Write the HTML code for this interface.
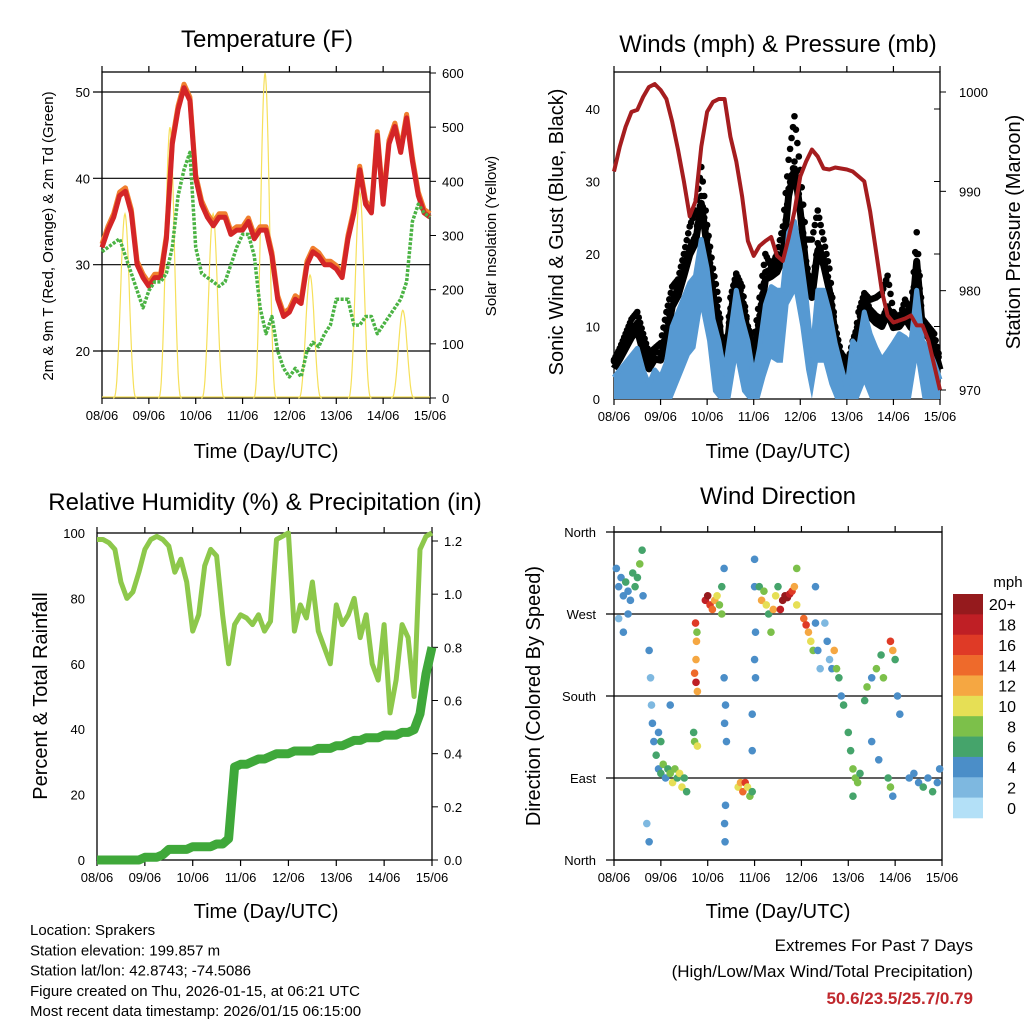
<!DOCTYPE html>
<html><head><meta charset="utf-8"><style>
html,body{margin:0;padding:0;background:#fff}
svg{display:block;font-family:"Liberation Sans",sans-serif}
</style></head><body>
<svg id="s" width="1024" height="1024" viewBox="0 0 1024 1024"></svg>
<script>
// ---------- DATA ----------
const dayLabels=["08/06","09/06","10/06","11/06","12/06","13/06","14/06","15/06"];
// 3-hourly series (57 points, 0..7 days)
const tempRed=[32,34,35.5,38,38.5,36,30,28.5,27.5,28.5,28.5,33,44,48,50.5,49,40,37,35.5,34.5,35.5,35.5,33.5,34,34,35,33,34,34,31,26,24,24.5,26,25.5,30,31.5,31,30,30,29.5,28.5,33,36,41,37,36,45,37,44,46,43,47,42,38,36,35.5];
const dewGreen=[31.5,32,32.5,33,31,29,27,25,27,28,28,29,32,38,41,43,32,29,28.5,28,27.5,28,30,32,33.5,33.5,31,25,22,24,20,18,17,18,17,20,21,20.5,22,23,26,26,26,23,23,24,24,22,23,24,25,26,28,35,37,36,35.5];
const solarCenter=[0.49,1.45,2.37,3.48,4.44,5.5,6.42];
const solarPeak=[340,500,340,600,227,380,162];
const tempTicks=[20,30,40,50];
const solarTicks=[0,100,200,300,400,500,600];

const pressure=[992,994.5,996.5,998,998.2,999.5,1000.5,1000.8,1000.2,999.3,997,994.2,991,987.5,989,994.5,998,999,999.3,999.3,995.5,993,989.5,985,983.5,984.5,985,985.4,983.5,983,985.3,988,991.5,993,994.2,993.5,992.3,992.2,992.4,992.3,992.2,992,991.5,991,988,984,980,977.5,976.8,977,977.2,977.5,976.5,976.5,975,972.5,970];
const gust=[5.4,7,9,11,12,9,6.3,7,7.7,12,15.5,16.5,20,23.8,26,32,24,18,13.7,3.5,14,17.3,15.5,10,7.7,14,20,18.3,20,23.8,33,39,31.6,22,22,26,22,18,10,6.3,5.4,6,12,14.6,13.7,14,14.6,17,12,11,13.7,12,23,11,10,9,5.4];
const wind=[3,4,5,6,7,4,2,4,3,5,10,12,14,16,17,22,18,11,8,3.5,9,15,11,8,3,7,13,15.5,15,15,23,24.5,20,14,6,15,15,12,7.7,4.5,1.5,8,7,12,9,7,5.4,6.5,7.7,9,8.5,7.7,15,8,7,5,2.7];
const windTicks=[0,10,20,30,40];
const presTicks=[970,980,990,1000];

const rh=[98,98,97,95,85,80,82,88,95,98,99,98,96,88,92,85,70,75,90,95,93,75,60,72,75,74,72,75,70,73,98,99,100,70,78,74,85,70,65,60,78,72,75,80,68,75,60,55,72,45,55,72,68,50,95,99,100];
const precip=[0,0,0,0,0,0,0,0,0.01,0.01,0.01,0.02,0.04,0.04,0.04,0.04,0.05,0.05,0.05,0.05,0.06,0.06,0.08,0.35,0.36,0.36,0.37,0.38,0.38,0.39,0.40,0.40,0.40,0.41,0.41,0.41,0.41,0.42,0.42,0.42,0.43,0.43,0.44,0.45,0.45,0.46,0.46,0.46,0.47,0.47,0.47,0.48,0.48,0.49,0.55,0.70,0.80];
const rhTicks=[0,20,40,60,80,100];
const rainTicks=[0,0.2,0.4,0.6,0.8,1.0,1.2];

const dirDay=[0.05,0.1,0.15,0.2,0.25,0.3,0.35,0.4,0.45,0.5,0.55,0.6,0.62,0.3,0.1,0.2,0.75,0.78,0.8,0.82,0.85,0.7,0.75,0.9,0.95,1.0,1.05,1.1,1.15,1.2,1.25,1.3,1.35,1.4,1.45,1.5,1.55,1.0,0.95,1.2,1.72,1.75,1.78,1.75,1.72,1.7,1.78,1.77,1.74,1.76,1.95,2.0,2.05,2.1,2.15,2.2,2.25,2.3,2.35,2.3,2.35,2.38,2.36,2.4,2.38,2.36,2.37,2.65,2.7,2.75,2.8,2.85,2.9,2.95,2.95,2.95,3.0,3.0,3.02,3.0,3.02,3.1,3.15,3.2,3.25,3.3,3.35,3.4,3.45,3.5,3.55,3.6,3.65,3.7,3.75,3.8,3.85,3.9,3.9,4.05,4.1,4.15,4.2,4.25,4.3,4.3,4.35,4.4,4.5,4.55,4.6,4.65,4.7,4.75,4.8,4.85,4.9,5.0,5.05,5.1,5.15,5.2,5.25,5.1,5.35,5.4,5.5,5.6,5.7,5.75,5.5,5.65,5.9,5.95,6.0,6.05,6.1,5.85,5.9,5.95,6.3,6.4,6.5,6.6,6.7,6.8,6.9,6.95];
const dirDeg=[320,300,310,290,305,295,285,315,300,310,325,340,290,270,265,250,230,200,170,150,130,40,20,115,100,95,105,90,100,95,85,100,90,95,80,90,75,130,140,170,205,195,185,220,130,140,125,250,260,240,285,290,280,275,285,290,280,300,320,270,200,170,150,130,60,40,20,80,85,75,85,80,70,75,120,160,330,300,250,220,200,300,285,295,280,270,250,275,290,300,275,285,290,288,292,295,300,320,280,265,258,250,240,230,300,260,230,210,260,240,220,210,230,210,200,180,170,140,120,100,90,85,95,70,175,190,200,210,225,200,130,110,240,230,220,180,160,90,80,70,90,95,85,80,90,75,85,100];
const dirSpd=[3,4,3,4,5,4,3,5,6,5,7,6,4,3,2,3,3,2,2,3,4,2,4,6,4,6,8,4,6,8,10,8,6,10,9,6,6,5,4,4,14,17,12,12,8,6,9,8,15,12,18,20,16,14,12,10,8,6,4,7,3,4,4,3,4,3,4,10,12,14,16,10,8,6,4,3,4,3,3,3,4,6,12,8,10,6,8,12,10,6,18,20,20,20,18,16,12,8,10,14,16,12,10,8,4,4,3,2,2,3,2,4,12,8,6,4,6,6,6,7,8,7,6,6,6,8,4,7,6,7,4,4,16,12,6,4,4,6,8,4,4,4,3,5,4,6,4,4];
const spdColors=["#b3e0f7","#7eb8e0","#4b8ec8","#45a46b","#7cc04a","#e6df55","#f5a742","#ee6a2b","#df3a26","#bf1f25","#951a1d"];
const spdLabels=["0","2","4","6","8","10","12","14","16","18","20+"];
const dirTicks=[0,90,180,270,360];
const dirLabels=["North","East","South","West","North"];

// ---------- HELPERS ----------
const NS="http://www.w3.org/2000/svg";
const svg=document.getElementById('s');
function mk(tag,attrs,parent,text){const e=document.createElementNS(NS,tag);for(const k in attrs)e.setAttribute(k,attrs[k]);if(text!==undefined)e.textContent=text;(parent||svg).appendChild(e);return e;}
function lin(d0,d1,r0,r1){return v=>r0+(v-d0)*(r1-r0)/(d1-d0);}
function txt(x,y,s,size,name,opt){opt=opt||{};const t=mk('text',{x:x,y:y,'font-size':size,'text-anchor':opt.anchor||'middle',fill:opt.fill||'#000','font-weight':opt.bold?'bold':'normal'},svg,s);if(opt.rot!==undefined)t.setAttribute('transform','rotate('+opt.rot+' '+x+' '+y+')');

return t;}
function poly(pts,attrs,name){const p=mk('polyline',Object.assign({points:pts.map(p=>p[0].toFixed(1)+','+p[1].toFixed(1)).join(' '),fill:'none'},attrs));

return p;}
function frame(L,R,T,B,name,xs,gridYs,gridLeft){
  const g=mk('g',{});
  
  
  gridYs.forEach(y=>mk('line',{x1:gridLeft,x2:R,y1:y,y2:y,stroke:'#000','stroke-width':1.2},g));
  mk('rect',{x:L,y:T,width:R-L,height:B-T,fill:'none',stroke:'#000','stroke-width':1.3},g);
  dayLabels.forEach((d,i)=>{const x=xs(i);mk('line',{x1:x,x2:x,y1:B,y2:B+6,stroke:'#000','stroke-width':1.2},g);mk('line',{x1:x,x2:x,y1:T,y2:T-6,stroke:'#000','stroke-width':1.2},g);
    const t=mk('text',{x:x,y:B+22,'font-size':13,'text-anchor':'middle'},g,d);
    
    });
  return g;}
function idxDay(i){return i/8;}

// ---------- PANEL 1: Temperature ----------
(function(){
  const L=102,R=430,T=72,B=398;
  const x=lin(0,7,L,R), y=lin(20,50,351,92), ys=lin(0,600,B,73);
  frame(L,R,T,B,'temperature-plot',x,tempTicks.map(y),93);
  tempTicks.forEach(v=>txt(L-12,y(v)+5,String(v),13,'temp-y-tick',{anchor:'end'}));
  solarTicks.forEach(v=>{mk('line',{x1:R,x2:R+6,y1:ys(v),y2:ys(v),stroke:'#000'});txt(R+12,ys(v)+5,String(v),13,'solar-y-tick',{anchor:'start'});});
  solarCenter.forEach((c,k)=>{const pts=[];for(let s=-0.25;s<=0.2501;s+=0.0125){const f=Math.max(0,Math.cos(Math.PI*s/0.5));pts.push([x(c+s),ys(solarPeak[k]*Math.pow(f,3))]);}
    poly(pts,{stroke:'#f6e05a','stroke-width':1.2},'solar-insolation-day');});
  poly([[L,B-1],[R,B-1]],{stroke:'#f6e05a','stroke-width':1.2},'solar-baseline');
  poly(tempRed.map((v,i)=>[x(idxDay(i)),y(v+0.4)]),{stroke:'#f07f2e','stroke-width':5,'stroke-linejoin':'round'},'temp-9m-orange');
  poly(tempRed.map((v,i)=>[x(idxDay(i)),y(v)]),{stroke:'#d42527','stroke-width':5,'stroke-linejoin':'round'},'temp-2m-red');
  poly(dewGreen.map((v,i)=>[x(idxDay(i)),y(v)]),{stroke:'#4bb344','stroke-width':3.5,'stroke-dasharray':'3 1.5','stroke-linejoin':'round'},'dewpoint-green');
  txt(267,47,'Temperature (F)',24,'temperature-title');
  txt(266,458,'Time (Day/UTC)',20,'temp-x-title');
  txt(53,236,'2m & 9m T (Red, Orange) & 2m Td (Green)',15,'temp-y-title',{rot:-90});
  txt(496,236,'Solar Insolation (Yellow)',15,'solar-y-title',{rot:-90});
})();

// ---------- PANEL 2: Winds ----------
(function(){
  const L=614,R=940,T=72,B=399;
  const x=lin(0,7,L,R), y=lin(0,40,B,109), yp=lin(970,1000,390,92);
  frame(L,R,T,B,'winds-plot',x,windTicks.slice(1).map(y),R);
  windTicks.forEach(v=>{txt(L-14,y(v)+5,String(v),13,'wind-y-tick',{anchor:'end'});mk('line',{x1:R-6,x2:R,y1:y(v),y2:y(v),stroke:'#000'});});
  presTicks.forEach(v=>{mk('line',{x1:R,x2:R+6,y1:yp(v),y2:yp(v),stroke:'#000'});txt(R+19,yp(v)+5,String(v),13,'pressure-y-tick',{anchor:'start'});});
  gust.forEach((v,i)=>{ if(i<gust.length-1){ for(let k=0;k<4;k++){const f=k/4;const t=idxDay(i)+f/8;const g=v+(gust[i+1]-v)*f;const w=wind[i]+(wind[i+1]-wind[i])*f;
    [g,(g+w)/2+1].forEach(val=>{const c=mk('circle',{cx:x(t),cy:y(val),r:3.3,fill:'#000'});
    
    });}}});
  poly(gust.map((v,i)=>[x(idxDay(i)),y((v+wind[i])/2)]),{stroke:'#000','stroke-width':7,'stroke-linejoin':'round'},'gust-band');
  const area=wind.map((v,i)=>[x(idxDay(i)),y(v)]).concat(wind.map((v,i)=>[x(idxDay(i)),y(Math.max(0,v-10))]).reverse());
  const pg=mk('polygon',{points:area.map(p=>p[0].toFixed(1)+','+p[1].toFixed(1)).join(' '),fill:'#5699d2'});
  
  
  poly(wind.map((v,i)=>[x(idxDay(i)),y(v)]),{stroke:'#5699d2','stroke-width':5,'stroke-linejoin':'round'},'sonic-wind-line');
  poly(pressure.map((v,i)=>[x(idxDay(i)),yp(v)]),{stroke:'#a51d1f','stroke-width':4,'stroke-linejoin':'round'},'pressure-line');
  txt(778,52,'Winds (mph) & Pressure (mb)',24,'winds-title');
  txt(778,458,'Time (Day/UTC)',20,'winds-x-title');
  txt(563,232,'Sonic Wind & Gust (Blue, Black)',20,'wind-y-title',{rot:-90});
  txt(1020,232,'Station Pressure (Maroon)',20,'pressure-y-title',{rot:-90});
})();

// ---------- PANEL 3: RH & Precip ----------
(function(){
  const L=97,R=432,T=533,B=860;
  const x=lin(0,7,L,R), y=lin(0,100,B,T), yr=lin(0,1.2,B,541);
  frame(L,R,T,B,'humidity-plot',x,rhTicks.slice(1,5).map(y),R);
  rhTicks.forEach(v=>{txt(L-12,y(v)+5,String(v),13,'rh-y-tick',{anchor:'end'});});
  rainTicks.forEach(v=>{mk('line',{x1:R,x2:R+6,y1:yr(v),y2:yr(v),stroke:'#000'});txt(R+12,yr(v)+5,v.toFixed(1),13,'rain-y-tick',{anchor:'start'});});
  poly(rh.map((v,i)=>[x(idxDay(i)),y(v)]),{stroke:'#8dc84b','stroke-width':5,'stroke-linejoin':'round'},'relative-humidity-line');
  poly(precip.map((v,i)=>[x(idxDay(i)),yr(v)]),{stroke:'#3fa83a','stroke-width':9,'stroke-linejoin':'round'},'precipitation-line');
  txt(265,510,'Relative Humidity (%) & Precipitation (in)',24,'humidity-title');
  txt(266,918,'Time (Day/UTC)',20,'rh-x-title');
  txt(47,696,'Percent & Total Rainfall',20,'rh-y-title',{rot:-90});
})();

// ---------- PANEL 4: Wind Direction ----------
(function(){
  const L=614,R=942,T=532,B=860;
  const x=lin(0,7,L,R), y=lin(0,360,B,T);
  frame(L,R,T,B,'wind-direction-plot',x,dirTicks.map(y),606);
  dirTicks.forEach((v,i)=>txt(596,y(v)+5,dirLabels[i],13,'direction-y-tick',{anchor:'end'}));
  dirDay.forEach((d,i)=>{const c=mk('circle',{cx:x(d),cy:y(dirDeg[i]),r:3.8,fill:spdColors[Math.min(10,Math.round(dirSpd[i]/2))]});
    
    });
  const cbT=594,cbH=224/11;
  spdColors.slice().reverse().forEach((c,k)=>{const r=mk('rect',{x:953,y:cbT+k*cbH,width:30,height:cbH+0.3,fill:c});
    
    
    txt(1016,cbT+k*cbH+cbH/2+6,spdLabels[10-k],16,'colorbar-label',{anchor:'end'});});
  txt(1008,587,'mph',15,'colorbar-title',{anchor:'middle'});
  txt(778,504,'Wind Direction',24,'wind-direction-title');
  txt(778,918,'Time (Day/UTC)',20,'direction-x-title');
  txt(540,696,'Direction (Colored By Speed)',20,'direction-y-title',{rot:-90});
})();

// ---------- FOOTER ----------
["Location: Sprakers","Station elevation: 199.857 m","Station lat/lon: 42.8743; -74.5086","Figure created on Thu, 2026-01-15, at 06:21 UTC","Most recent data timestamp: 2026/01/15 06:15:00"].forEach((s,i)=>txt(30,935+i*20.3,s,15,'station-info-line',{anchor:'start'}));
txt(973,951,'Extremes For Past 7 Days',17,'extremes-title',{anchor:'end'});
txt(973,977,'(High/Low/Max Wind/Total Precipitation)',17,'extremes-subtitle',{anchor:'end'});
txt(973,1004,'50.6/23.5/25.7/0.79',17,'extremes-values',{anchor:'end',fill:'#c0282d',bold:true});
</script>
</body></html>
